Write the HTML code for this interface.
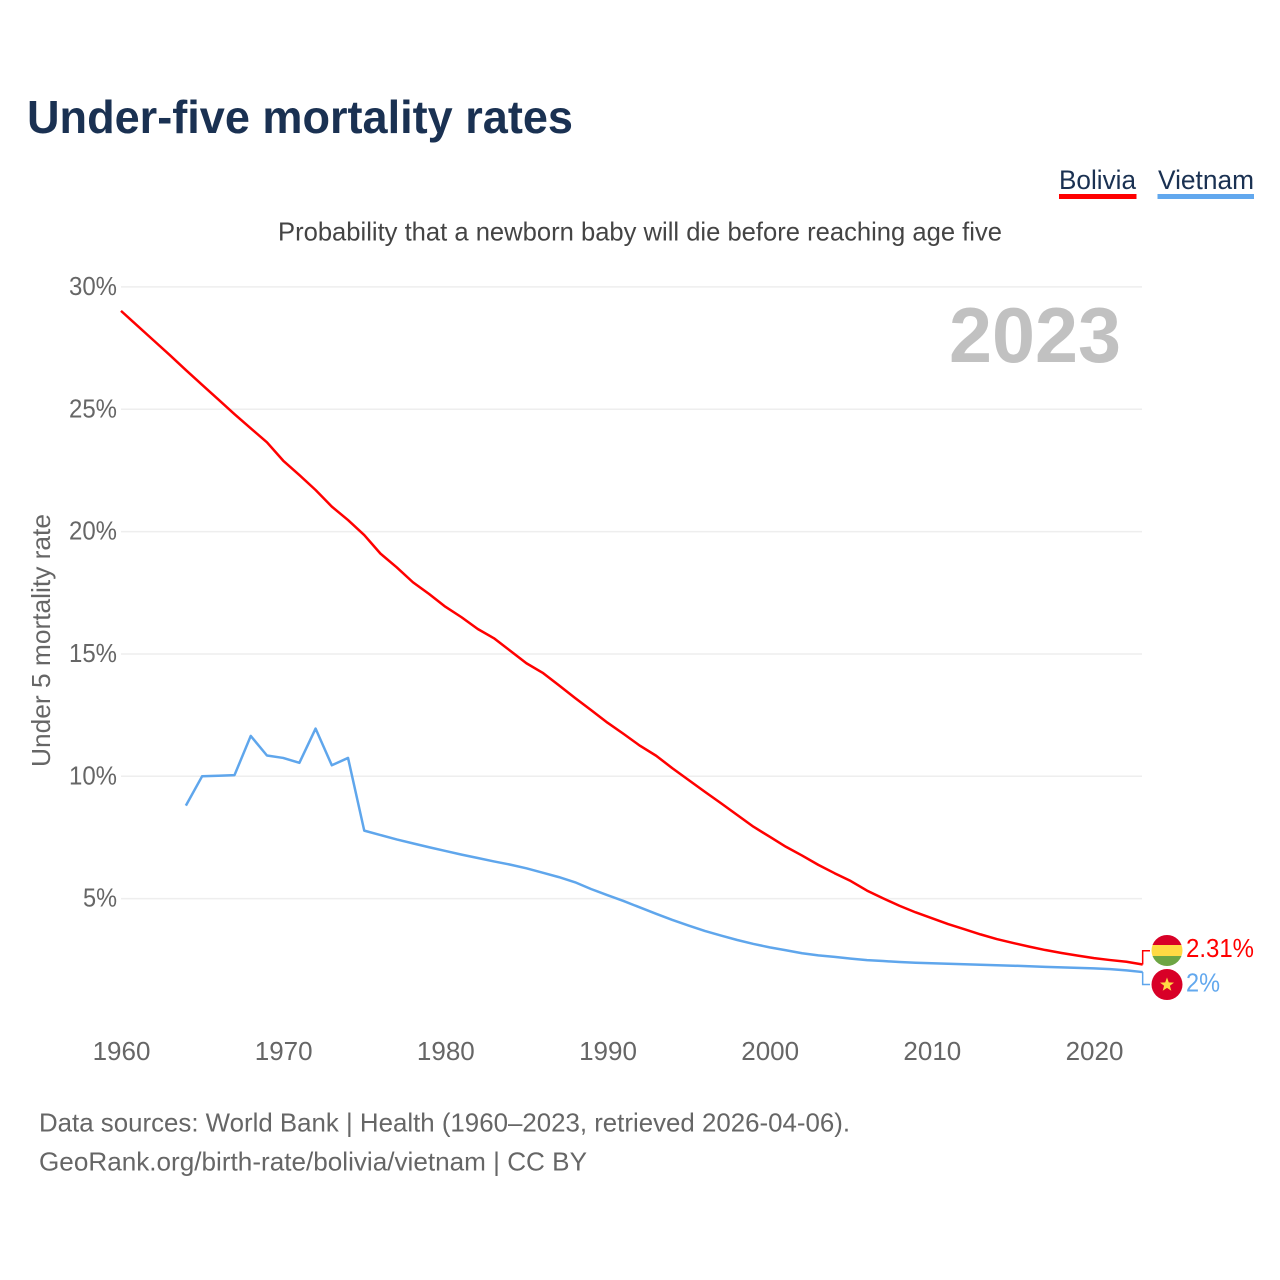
<!DOCTYPE html>
<html lang="en">
<head>
<meta charset="utf-8">
<title>Under-five mortality rates</title>
<style>
html,body{margin:0;padding:0;background:#fff}
svg{display:block}
text{font-family:"Liberation Sans",sans-serif}
</style>
</head>
<body>
<svg id="chart" xmlns="http://www.w3.org/2000/svg" width="1280" height="1280" viewBox="0 0 1280 1280">
  <rect width="1280" height="1280" fill="#fff"/>
  <text x="27" y="133" font-size="46" font-weight="700" fill="#1a3152" textLength="546" lengthAdjust="spacingAndGlyphs">Under-five mortality rates</text>
  <text x="278" y="240.5" font-size="26" fill="#444" textLength="724" lengthAdjust="spacingAndGlyphs">Probability that a newborn baby will die before reaching age five</text>
  <g>
    <text x="1059" y="189" font-size="27" fill="#1a3152" textLength="77" lengthAdjust="spacingAndGlyphs">Bolivia</text>
    <rect x="1059" y="194" width="77.5" height="5" fill="#ff0000"/>
    <text x="1158" y="189" font-size="27" fill="#1a3152" textLength="96" lengthAdjust="spacingAndGlyphs">Vietnam</text>
    <rect x="1157.5" y="194" width="96.5" height="5" fill="#62a8ee"/>
  </g>
  <text transform="translate(50,767) rotate(-90)" font-size="26" fill="#666" textLength="253" lengthAdjust="spacingAndGlyphs">Under 5 mortality rate</text>
  <g id="grid"></g>
  <g id="yticks"></g>
  <g id="xticks"></g>
  <text x="949" y="362" font-size="78" font-weight="700" fill="#c1c1c1" textLength="172" lengthAdjust="spacingAndGlyphs">2023</text>
  <g id="series"></g>
  <defs>
    <clipPath id="clip-bo"><circle cx="1167" cy="950.5" r="15.5"/></clipPath>
  </defs>
  <g clip-path="url(#clip-bo)">
    <rect x="1150" y="934" width="34" height="11" fill="#d80027"/>
    <rect x="1150" y="945" width="34" height="11" fill="#ffda44"/>
    <rect x="1150" y="956" width="34" height="12" fill="#6da544"/>
  </g>
  <g>
    <circle cx="1167" cy="984.5" r="15.5" fill="#d80027"/>
    <polygon points="1167,977.5 1168.8,982.4 1174,982.6 1169.9,985.8 1171.3,990.8 1167,987.9 1162.7,990.8 1164.1,985.8 1160,982.6 1165.2,982.4" fill="#ffda44"/>
  </g>
  <text x="1186" y="957" font-size="26" fill="#ff0000" textLength="68" lengthAdjust="spacingAndGlyphs">2.31%</text>
  <text x="1186" y="991.5" font-size="26" fill="#62a8ee" textLength="34" lengthAdjust="spacingAndGlyphs">2%</text>
  <text x="39" y="1131.5" font-size="26" fill="#666" textLength="811" lengthAdjust="spacingAndGlyphs">Data sources: World Bank | Health (1960–2023, retrieved 2026-04-06).</text>
  <text x="39" y="1170.5" font-size="26" fill="#666" textLength="548" lengthAdjust="spacingAndGlyphs">GeoRank.org/birth-rate/bolivia/vietnam | CC BY</text>
</svg>
<script>
var yearStart = 1960;
var xTickLabels = [1960, 1970, 1980, 1990, 2000, 2010, 2020];
var yTickLabels = [5, 10, 15, 20, 25, 30];
var boliviaValues = [29.02,28.42,27.82,27.22,26.6,26.0,25.4,24.8,24.22,23.65,22.9,22.31,21.7,21.02,20.47,19.86,19.1,18.54,17.93,17.45,16.93,16.5,16.02,15.64,15.13,14.62,14.23,13.72,13.2,12.7,12.19,11.73,11.25,10.84,10.33,9.85,9.37,8.9,8.42,7.94,7.53,7.12,6.76,6.38,6.04,5.72,5.33,5.01,4.71,4.44,4.2,3.96,3.75,3.54,3.35,3.19,3.04,2.9,2.78,2.67,2.57,2.49,2.42,2.31];
var vietnamValues = [null,null,null,null,8.8,10.0,10.02,10.05,11.65,10.85,10.75,10.55,11.95,10.45,10.75,7.78,7.6,7.42,7.26,7.1,6.95,6.8,6.66,6.52,6.39,6.24,6.06,5.88,5.67,5.39,5.14,4.9,4.64,4.38,4.13,3.9,3.68,3.49,3.31,3.15,3.01,2.89,2.77,2.68,2.62,2.55,2.49,2.45,2.41,2.38,2.36,2.34,2.32,2.3,2.28,2.26,2.24,2.21,2.19,2.17,2.15,2.12,2.07,2.0];

var NS = 'http://www.w3.org/2000/svg';
function xScale(year) { return 121 + (year - 1960) * 16.217; }
function yScale(v) { return 1021 - v * 24.47; }

function make(tag, attrs, parent, txt) {
  var el = document.createElementNS(NS, tag);
  for (var k in attrs) { el.setAttribute(k, attrs[k]); }
  if (txt !== undefined) { el.textContent = txt; }
  parent.appendChild(el);
  return el;
}

var gridG = document.getElementById('grid');
var yG = document.getElementById('yticks');
var xG = document.getElementById('xticks');
var seriesG = document.getElementById('series');

yTickLabels.forEach(function (v) {
  var line = make('line', {x1: 121, x2: 1142, y1: yScale(v), y2: yScale(v), stroke: '#eeeeee', 'stroke-width': 1.5}, gridG);
  
  
  var label = v + '%';
  var t = make('text', {x: 117, y: yScale(v) + 8, 'text-anchor': 'end', 'font-size': 26, fill: '#666', textLength: (label.length - 1) * 14 + 20, lengthAdjust: 'spacingAndGlyphs'}, yG, label);
  
  
});

xTickLabels.forEach(function (yr) {
  var t = make('text', {x: xScale(yr) + 0.5, y: 1060, 'text-anchor': 'middle', 'font-size': 26, fill: '#666'}, xG, String(yr));
  
  
});

function buildPath(values) {
  var d = '';
  values.forEach(function (v, i) {
    if (v === null) { return; }
    d += (d ? 'L' : 'M') + xScale(yearStart + i).toFixed(2) + ' ' + yScale(v).toFixed(2);
  });
  return d;
}

var boliviaLine = make('path', {d: buildPath(boliviaValues), fill: 'none', stroke: '#ff0000', 'stroke-width': 2.5, 'stroke-linejoin': 'round'}, seriesG);



var vietnamLine = make('path', {d: buildPath(vietnamValues), fill: 'none', stroke: '#5fa6ec', 'stroke-width': 2.5, 'stroke-linejoin': 'round'}, seriesG);



var lastYear = yearStart + boliviaValues.length - 1;
var boliviaLeader = make('path', {d: 'M' + xScale(lastYear) + ' ' + yScale(boliviaValues[boliviaValues.length - 1]) + 'V950.7H1150', fill: 'none', stroke: '#ff0000', 'stroke-width': 1.5}, seriesG);



var vietnamLeader = make('path', {d: 'M' + xScale(lastYear) + ' ' + yScale(vietnamValues[vietnamValues.length - 1]) + 'V984.5H1150', fill: 'none', stroke: '#5fa6ec', 'stroke-width': 1.5}, seriesG);


</script>
</body>
</html>
